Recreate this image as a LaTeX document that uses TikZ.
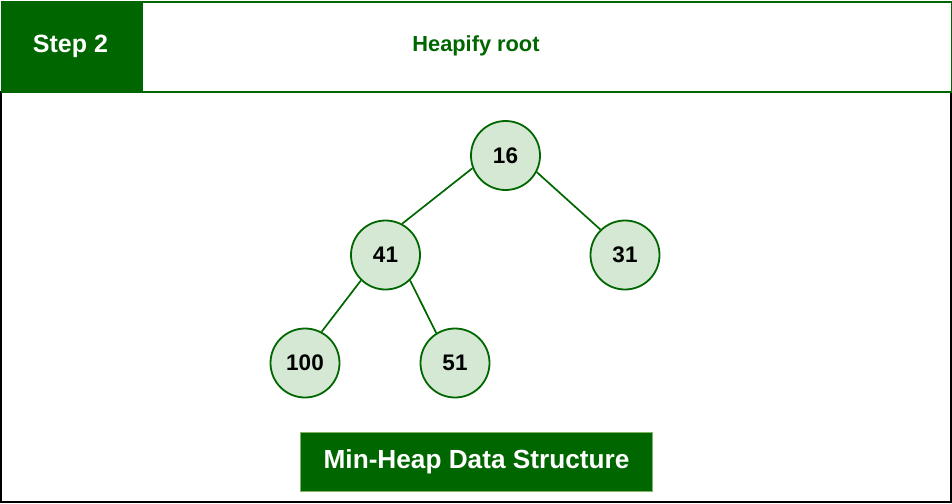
\documentclass[tikz,border=0pt]{standalone}
\usepackage{fontspec}
\setmainfont{Liberation Sans}
\definecolor{dkgreen}{HTML}{006600}
\definecolor{ltgreen}{HTML}{D5E8D4}
\definecolor{bdgreen}{HTML}{82B366}
\begin{document}
\begin{tikzpicture}[x=1pt,y=-1pt,
  heapnode/.style={circle, draw=dkgreen, fill=ltgreen, line width=1.8pt, minimum size=69pt, inner sep=0pt, font=\fontsize{22.5}{26}\selectfont\bfseries},
  edge/.style={draw=dkgreen, line width=1.7pt},
  titlebox/.style={fill=dkgreen, text=white, inner sep=0pt}]
\useasboundingbox (0,0) rectangle (952,503);
\fill[white] (0,0) rectangle (952,503);
% outer frame
\draw[black, line width=2pt] (1,91) -- (1,502) -- (951,502) -- (951,91);
% header
\node[titlebox, draw=dkgreen, line width=1.5pt, minimum width=140pt, minimum height=91pt, anchor=north west] (step) at (0.75,0.75) {};
\node[text=white, font=\fontsize{25}{29}\selectfont\bfseries] (steplbl) at (70.5,46) {Step 2};
\node[draw=dkgreen, line width=2pt, minimum width=810pt, minimum height=90pt, anchor=north west, inner sep=0pt] (hdr) at (141,1) {};
\node[text=dkgreen, font=\fontsize{21.8}{25}\selectfont\bfseries] (title) at (476,46) {Heapify root};
% nodes
\node[heapnode] (n16) at (505.5,155.5) {16};
\node[heapnode] (n41) at (385.5,255) {41};
\node[heapnode] (n31) at (625,255) {31};
\node[heapnode] (n100) at (305,363) {100};
\node[heapnode] (n51) at (455,363) {51};
% edges
\draw[edge] (n16.201) -- (n41.62);
\draw[edge] (n16.-28) -- (n31.134);
\draw[edge] (n41.226) -- (n100.62);
\draw[edge] (n41.-46) -- (n51.122);
% footer
\node[titlebox, draw=bdgreen, line width=1pt, minimum width=352pt, minimum height=59pt, font=\fontsize{26.2}{30}\selectfont\bfseries] (foot) at (476.5,461.5) {Min-Heap Data Structure};
\end{tikzpicture}
\end{document}
